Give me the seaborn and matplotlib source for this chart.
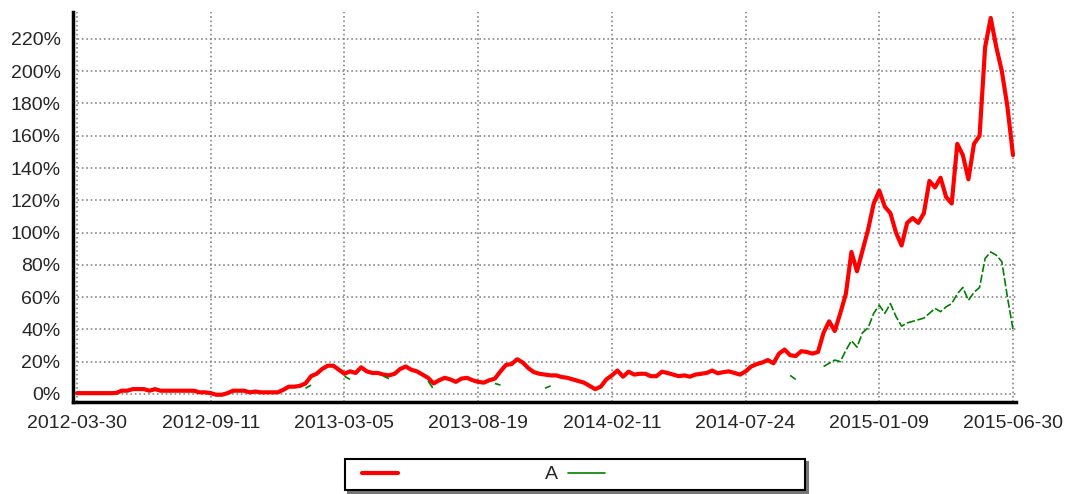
import numpy as np
import pandas as pd
import matplotlib
matplotlib.use("Agg")
import matplotlib.pyplot as plt
import seaborn as sns
from matplotlib.lines import Line2D
from matplotlib.ticker import MultipleLocator, PercentFormatter

nan = np.nan

# tick labels every 24 samples along the index
dates = ['2012-03-30', '2012-09-11', '2013-03-05', '2013-08-19',
         '2014-02-11', '2014-07-24', '2015-01-09', '2015-06-30']

# cumulative return (%), 169 samples
strategy = [
    0.5, 0.5, 0.5, 0.5, 0.5, 0.5, 0.5, 0.6, 2.0, 2.0,
    3.0, 3.0, 3.0, 2.0, 3.0, 2.0, 2.0, 2.0, 2.0, 2.0,
    2.0, 2.0, 1.0, 1.0, 0.5, -0.5, -0.5, 0.5, 2.0, 2.0,
    2.0, 1.0, 1.5, 1.0, 1.0, 1.0, 1.0, 2.5, 4.5, 4.5,
    5.0, 6.5, 11.0, 12.5, 15.5, 17.5, 17.5, 15.0, 12.5, 14.0,
    13.0, 16.5, 14.0, 13.0, 13.0, 12.0, 11.5, 12.5, 15.5, 17.0,
    15.0, 14.0, 12.0, 10.0, 6.5, 8.5, 10.0, 9.0, 7.5, 9.5,
    10.0, 8.5, 7.5, 7.0, 8.5, 9.5, 14.0, 18.0, 18.5, 21.5,
    19.5, 16.0, 13.5, 12.5, 12.0, 11.5, 11.5, 10.5, 10.0, 9.0,
    8.0, 7.0, 5.0, 3.0, 4.5, 9.0, 11.5, 14.5, 10.7, 13.8,
    12.0, 12.5, 12.5, 11.0, 11.0, 13.8, 13.0, 12.0, 11.0, 11.5,
    10.7, 12.0, 12.5, 13.0, 14.5, 12.8, 13.5, 14.0, 13.0, 12.0,
    14.0, 17.0, 18.5, 19.5, 21.0, 19.0, 25.0, 27.5, 24.0, 23.5,
    26.5, 26.0, 25.0, 26.0, 38.0, 45.0, 39.0, 50.0, 62.0, 88.0,
    76.0, 89.0, 102.0, 118.0, 126.0, 116.0, 112.0, 100.0, 92.0, 106.0,
    109.0, 106.0, 112.0, 132.0, 128.0, 134.0, 122.0, 118.0, 155.0, 148.0,
    133.0, 155.0, 160.0, 215.0, 233.0, 215.0, 200.0, 178.0, 148.0,
]

# benchmark return (%), gaps where the chart shows none
benchmark = [nan] * 41 + [
    3.5, 5.5, nan, nan, nan, nan, nan, 11.0, 9.0, nan,
    nan, nan, nan, nan, 11.0, 9.5, nan, nan, nan, nan,
    nan, nan, 8.0, 3.0, nan, nan, nan, nan, nan, nan,
    nan, nan, nan, nan, 6.5, 5.5, nan, nan, nan, nan,
    nan, nan, nan, 3.5, 5.0,
] + [nan] * 42 + [
    11.5, 9.0, nan, nan, nan, nan, 17.0, 19.0, 21.0, 20.0,
    27.0, 33.0, 29.0, 38.0, 41.0, 50.0, 55.0, 50.0, 56.0, 48.0,
    42.0, 44.0, 45.0, 46.0, 47.0, 50.0, 53.0, 51.0, 54.0, 56.0,
    62.0, 66.0, 58.0, 63.0, 66.0, 84.0, 88.0, 86.0, 82.0, 60.0,
    40.0,
]

idx = np.arange(len(strategy))
bench = pd.DataFrame({'x': idx, 'y': benchmark})
bench['seg'] = bench['y'].isna().cumsum()
bench = bench.dropna()

sns.set_style('white')
plt.rcParams['font.family'] = ['Liberation Sans', 'DejaVu Sans']

fig = plt.figure(figsize=(10.71, 4.94), dpi=100)
ax = fig.add_axes([0.0682, 0.1862, 0.8805, 0.7895])

sns.lineplot(x=idx, y=strategy, color='#ff0000', linewidth=3.0, ax=ax)
sns.lineplot(data=bench, x='x', y='y', units='seg', estimator=None,
             color='#008000', linewidth=1.2, linestyle=(0, (5, 1.5)),
             legend=False, ax=ax)

ax.set_xlim(-0.72, 168.55)
ax.set_ylim(-5, 236.7)
ax.set_xticks(np.arange(0, 169, 24))
ax.set_xticklabels(dates)
ax.xaxis.set_minor_locator(MultipleLocator(6))
ax.yaxis.set_major_locator(MultipleLocator(20))
ax.yaxis.set_minor_locator(MultipleLocator(2.5))
ax.yaxis.set_major_formatter(PercentFormatter(decimals=0))
ax.set_xlabel('')
ax.set_ylabel('')

ax.grid(True, which='major', linestyle=':', color='#888888', linewidth=1.2)
for s in ['top', 'right']:
    ax.spines[s].set_visible(False)
for s in ['left', 'bottom']:
    ax.spines[s].set_linewidth(2.5)
    ax.spines[s].set_color('black')
ax.tick_params(which='major', direction='out', length=5, width=1,
               color='#555555', labelsize=14, pad=4)
ax.tick_params(which='minor', direction='out', length=2.5, width=0.8,
               color='#777777')

handles = [Line2D([], [], color='#ff0000', linewidth=3.0),
           Line2D([], [], color='#008000', linewidth=1.2),
           Line2D([], [], color='none')]
leg = fig.legend(handles, ['', 'A', ''], loc='center',
                 bbox_to_anchor=(345 / 1071, 2 / 494, 460 / 1071, 35 / 494),
                 mode='expand', ncol=3, markerfirst=False, frameon=True,
                 fancybox=False, shadow={'color': '#777777', 'alpha': 1},
                 edgecolor='black', fontsize=14, handlelength=1.9,
                 handletextpad=0.5, borderpad=0.35, borderaxespad=0)
leg.get_frame().set_linewidth(1.5)

fig.savefig('out.png', dpi=100)
